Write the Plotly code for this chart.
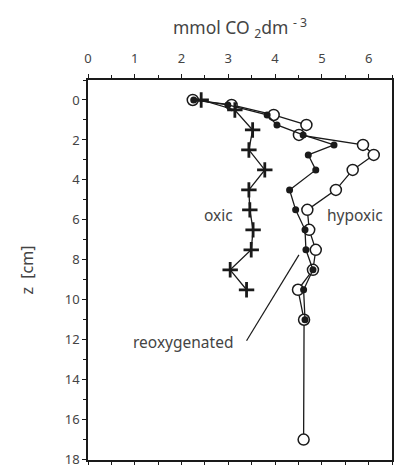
import plotly.graph_objects as go

# depths (cm)
depth_hyp = [0, 0.25, 0.75, 1.25, 1.75, 2.25, 2.75, 3.5, 4.5, 5.5, 6.5, 7.5, 8.5, 9.5, 11, 17]
co2_hyp = [2.24, 3.07, 3.97, 4.67, 4.51, 5.88, 6.11, 5.66, 5.30, 4.69, 4.73, 4.87, 4.81, 4.49, 4.62, 4.61]

depth_reox = [0, 0.25, 0.75, 1.25, 1.75, 2.25, 2.75, 3.5, 4.5, 5.5, 6.5, 7.5, 8.5, 9.5, 11]
co2_reox = [2.26, 2.99, 3.83, 4.04, 4.60, 5.26, 4.71, 4.87, 4.31, 4.44, 4.64, 4.66, 4.81, 4.61, 4.64]

depth_oxic = [0, 0.5, 1.5, 2.5, 3.5, 4.5, 5.5, 6.5, 7.5, 8.5, 9.5]
co2_oxic = [2.42, 3.14, 3.52, 3.44, 3.78, 3.44, 3.46, 3.53, 3.49, 3.04, 3.39]

x_ticks = [0, 1, 2, 3, 4, 5, 6]
y_ticks = [0, 2, 4, 6, 8, 10, 12, 14, 16, 18]

FONT = "Noto Sans"
TXT = "#444444"
INK = "#1a1a1a"

fig = go.Figure()
fig.add_trace(go.Scatter(
    x=co2_hyp, y=depth_hyp, mode="lines+markers", name="hypoxic",
    line=dict(color=INK, width=1.3),
    marker=dict(symbol="circle", size=11, color="white",
                line=dict(color=INK, width=1.5)),
))
fig.add_trace(go.Scatter(
    x=co2_reox, y=depth_reox, mode="lines+markers", name="reoxygenated",
    line=dict(color=INK, width=1.3),
    marker=dict(symbol="circle", size=7, color=INK),
))
fig.add_trace(go.Scatter(
    x=co2_oxic, y=depth_oxic, mode="lines+markers", name="oxic",
    line=dict(color=INK, width=1.3),
    marker=dict(symbol="cross-thin-open", size=11,
                line=dict(color=INK, width=2.8)),
))

fig.add_annotation(x=2.78, y=5.75, text="oxic", showarrow=False,
                   font=dict(family=FONT, size=15.5, color=TXT))
fig.add_annotation(x=5.71, y=5.75, text="hypoxic", showarrow=False,
                   font=dict(family=FONT, size=15.5, color=TXT))
fig.add_annotation(x=2.03, y=12.13, text="reoxygenated", showarrow=False,
                   font=dict(family=FONT, size=15.5, color=TXT))
fig.add_shape(type="line", x0=3.39, y0=12.05, x1=4.51, y1=7.75,
              line=dict(color=INK, width=1.2))

fig.update_layout(
    template="none",
    width=394, height=465,
    margin=dict(l=88, r=2, t=80, b=5),
    paper_bgcolor="white", plot_bgcolor="white",
    showlegend=False,
    font=dict(family=FONT, color=TXT, size=13),
    xaxis=dict(
        side="top", range=[0, 6.5], tickvals=x_ticks,
        showgrid=False, zeroline=False,
        showline=True, linecolor=INK, linewidth=1.5, mirror="ticks",
        ticks="outside", ticklen=4, tickcolor=INK, tickwidth=1.2,
        minor=dict(dtick=0.5, ticks="outside", ticklen=3, tickcolor=INK, tickwidth=1.2),
        tickfont=dict(size=13, color=TXT), ticklabelstandoff=6,
        title=dict(text="mmol CO <sub>2</sub>dm <sup>- 3</sup>", font=dict(size=17.5, color=TXT), standoff=10),
    ),
    yaxis=dict(
        range=[18.02, -1], tickvals=y_ticks,
        showgrid=False, zeroline=False,
        showline=True, linecolor=INK, linewidth=1.5, mirror="ticks",
        ticks="outside", ticklen=4, tickcolor=INK, tickwidth=1.2,
        minor=dict(dtick=1, ticks="outside", ticklen=3, tickcolor=INK, tickwidth=1.2),
        tickfont=dict(size=13, color=TXT), ticklabeloverflow="allow",
        title=dict(text="z  [cm]", font=dict(size=16, color=TXT), standoff=27),
    ),
)

fig.write_html("out.html", config={"displayModeBar": False},
               post_script="document.body.style.margin='0';document.body.style.overflow='hidden';")
